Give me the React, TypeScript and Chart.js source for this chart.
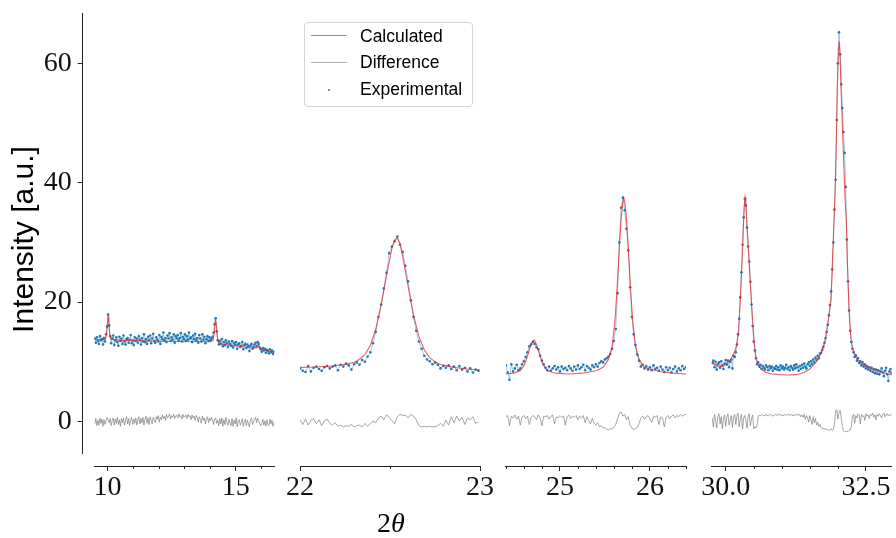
import React, { useEffect, useRef } from 'react';
import { Chart, registerables } from 'chart.js';

Chart.register(...registerables);

// ---------------- data ----------------
// Panel 1 (2θ 9.5 – 16.5)
const P1_RANGE = [9.48, 16.51];
const P1_TICKS = [10, 15];
const P1_TICK_LABELS = ['10', '15'];
const P1_MINOR = [11, 12, 13, 14, 16];
const P1_EXP_START = 9.5;
const P1_EXP_STEP = 0.04;
const P1_EXP = [
  13.9, 13.2, 14.1, 13.5, 13.0, 14.3, 13.6, 13.8, 12.9, 14.0,
  13.4, 14.6, 15.9, 17.9, 16.1, 14.3, 13.1, 13.9, 14.4, 12.8,
  13.6, 14.1, 13.3, 12.7, 14.2, 13.5, 13.9, 13.0, 14.4, 13.4,
  12.9, 13.8, 14.0, 13.2, 13.7, 14.5, 13.1, 13.6, 12.8, 14.1,
  13.5, 13.9, 13.2, 14.3, 13.7, 12.9, 14.0, 13.4, 14.6, 13.3,
  13.8, 13.0, 14.2, 13.6, 14.4, 13.1, 13.9, 14.7, 13.5, 13.2,
  14.1, 13.7, 13.4, 14.5, 13.0, 14.2, 13.8, 14.9, 13.6, 14.0,
  13.3, 14.4, 13.9, 14.8, 13.5, 14.1, 13.7, 14.6, 13.2, 14.3,
  13.9, 14.5, 13.6, 14.0, 14.8, 13.4, 14.2, 13.8, 14.6, 13.5,
  14.3, 13.7, 14.9, 13.9, 14.1, 13.3, 14.4, 13.8, 14.7, 13.6,
  14.0, 13.2, 14.5, 13.9, 13.4, 14.6, 13.7, 14.2, 13.1, 13.8,
  14.3, 13.5, 14.1, 13.6, 13.9, 14.2, 14.9, 16.3, 17.3, 15.1,
  13.6, 12.9, 13.5, 13.0, 13.8, 12.6, 13.3, 12.8, 13.6, 13.1,
  12.5, 13.4, 13.0, 12.7, 13.5, 12.4, 13.2, 12.8, 13.3, 12.2,
  12.9, 13.1, 12.5, 12.7, 13.3, 12.1, 12.8, 13.0, 12.3, 12.9,
  12.6, 11.8, 12.7, 13.0, 12.2, 12.5, 12.9, 13.2, 12.6, 13.3,
  13.0, 12.4, 12.1, 11.7, 12.3, 11.9, 12.2, 11.5, 12.0, 11.8,
  11.4, 12.1, 11.6, 11.9, 11.3, 11.7,
];
const P1_DIFF = [
  -0.4, 0.5, -0.7, 0.2, -0.6, 0.6, -0.3, 0.4, -0.8, 0.3,
  -0.5, 0.1, 0.7, 0.3, -0.2, 0.5, -0.7, 0.2, 0.6, -0.6,
  0.4, -0.3, 0.7, -0.5, 0.3, -0.8, 0.5, -0.2, 0.6, -0.6,
  0.2, 0.8, -0.4, 0.5, -0.7, 0.3, 0.7, -0.5, 0.4, -0.3,
  0.6, -0.6, 0.3, 0.8, -0.4, 0.5, -0.2, 0.7, -0.6, 0.4,
  0.9, -0.3, 0.6, -0.5, 0.8, 0.2, -0.4, 0.7, 0.3, -0.2,
  0.8, 0.4, 1.0, -0.1, 0.7, 0.3, 1.1, 0.5, 0.9, 0.2,
  1.2, 0.6, 0.9, 1.3, 0.4, 1.0, 0.7, 1.2, 0.5, 0.9,
  1.1, 0.6, 1.3, 0.8, 1.0, 0.4, 1.2, 0.7, 0.9, 1.1,
  0.5, 1.2, 0.8, 1.0, 0.3, 1.1, 0.6, 0.9, 0.2, 1.0,
  0.7, -0.1, 0.8, 0.4, -0.3, 0.9, 0.2, 0.6, -0.4, 0.5,
  0.8, -0.2, 0.6, 0.1, 0.7, 0.3, -0.5, 0.4, 0.6, -0.3,
  0.2, -0.7, 0.5, -0.4, 0.6, -0.8, 0.3, -0.5, 0.7, -0.2,
  -0.6, 0.4, -0.3, -0.7, 0.5, -0.8, 0.2, -0.4, 0.6, -0.9,
  0.1, 0.3, -0.6, -0.2, 0.5, -0.8, 0.0, 0.4, -0.7, 0.2,
  -0.3, -0.9, 0.3, 0.6, -0.5, -0.1, 0.4, 0.7, -0.2, 0.5,
  0.2, -0.4, -0.7, -0.3, 0.4, -0.6, 0.1, -0.8, 0.3, -0.5,
  -0.7, 0.4, -0.4, 0.2, -0.8, -0.1,
];
const P1_CALC_X = [9.48, 9.7, 9.9, 9.96, 10.0, 10.02, 10.05, 10.08, 10.14, 10.5, 11.0, 11.5, 12.0, 12.5, 13.0, 13.5, 14.0, 14.12, 14.17, 14.21, 14.24, 14.28, 14.34, 14.5, 15.0, 15.5, 15.8, 15.88, 15.96, 16.2, 16.51];
const P1_CALC_Y = [13.75, 13.7, 13.8, 14.4, 16.8, 17.5, 16.6, 14.6, 13.8, 13.6, 13.55, 13.5, 13.45, 13.4, 13.4, 13.35, 13.35, 13.6, 15.0, 17.0, 16.5, 14.3, 13.2, 12.9, 12.7, 12.4, 12.3, 12.7, 12.2, 11.9, 11.6];

// Panel 2 (2θ 22 – 23)
const P2_RANGE = [22, 23];
const P2_TICKS = [22, 23];
const P2_TICK_LABELS = ['22', '23'];
const P2_MINOR = [22.5];
const P2_EXP_START = 22.0;
const P2_EXP_STEP = 0.015;
const P2_EXP = [
  8.9, 8.5, 8.3, 9.3, 8.4, 9.0, 9.2, 8.8, 8.5, 9.1,
  9.3, 8.9, 9.2, 9.4, 8.6, 9.5, 9.2, 9.7, 9.4, 8.7,
  9.6, 9.9, 9.5, 10.3, 10.0, 10.9, 11.6, 13.1, 15.0, 17.5,
  19.6, 22.3, 24.9, 28.2, 29.3, 30.2, 31.0, 29.6, 28.4, 26.1,
  23.5, 20.3, 17.5, 15.2, 13.4, 12.2, 11.0, 10.4, 10.1, 9.6,
  9.9, 9.5, 8.9, 9.3, 9.0, 9.4, 8.8, 9.2, 8.6, 9.3,
  8.7, 9.0, 8.4, 8.9, 8.2, 8.7, 8.5,
];
const P2_DIFF = [
  0.3, -0.5, 0.4, -0.6, 0.2, 0.5, -0.4, 0.3, -0.7, 0.1, 0.4, -0.3, -0.6, -0.2,
  -0.8, -0.6, -0.9, -0.7, -0.8, -0.5, -0.9, -0.7, -0.6, -0.9, -0.3, -0.8, -0.4, 0.1, -0.2,
  0.6, 0.9, 0.3, 1.1, 0.7, 0.2, -0.4, 0.8, 1.2, 1.0, 1.1, 0.6, 1.2, 0.9,
  0.3, -0.7, -0.9, -0.8, -0.9, -0.8, -0.9, -0.85, -0.7, -0.3, -0.8,
  0.2, -0.6, 0.8, -0.2, 0.9, 0.1, 0.7, -0.5, 0.6, 0.3, 0.8, -0.3, -0.1,
];
const P2_CALC_X = [22.0, 22.09, 22.18, 22.255, 22.3, 22.33, 22.36, 22.39, 22.42, 22.45, 22.48, 22.51, 22.525, 22.54, 22.555, 22.57, 22.6, 22.63, 22.66, 22.69, 22.72, 22.75, 22.78, 22.825, 22.87, 22.93, 23.0];
const P2_CALC_Y = [9.07, 9.13, 9.29, 9.58, 9.94, 10.39, 11.22, 12.75, 15.41, 19.42, 24.45, 29.0, 30.4, 30.75, 29.8, 27.64, 22.64, 17.84, 14.26, 11.99, 10.7, 9.99, 9.59, 9.24, 9.02, 8.81, 8.64];

// Panel 3 (2θ 24.4 – 26.4)
const P3_RANGE = [24.4, 26.4];
const P3_TICKS = [25, 26];
const P3_TICK_LABELS = ['25', '26'];
const P3_MINOR = [24.4, 24.6, 24.8, 25.2, 25.4, 25.6, 25.8, 26.2, 26.4];
const P3_EXP_START = 24.4;
const P3_EXP_STEP = 0.02;
const P3_EXP = [
  9.4, 8.2, 7.0, 9.6, 8.4, 8.9, 9.5, 8.6, 8.9, 9.6,
  10.1, 10.8, 11.6, 12.6, 12.9, 13.3, 13.0, 12.4, 12.1, 11.0,
  10.2, 9.6, 9.0, 8.6, 9.2, 8.5, 8.9, 9.3, 8.7, 9.1,
  8.4, 9.2, 8.8, 9.0, 8.6, 9.3, 8.9, 8.5, 9.2, 8.7,
  9.4, 8.8, 9.1, 9.5, 8.6, 9.3, 9.0, 8.7, 9.4, 9.1,
  9.6, 9.2, 9.8, 10.1, 9.9, 10.4, 10.6, 10.9, 11.3, 12.2,
  13.5, 15.5, 21.5, 30.0, 35.8, 37.5, 35.4, 32.3, 28.7, 22.5,
  17.5, 14.6, 12.8, 11.2, 10.2, 9.2, 9.5, 8.9, 9.3, 8.7,
  9.1, 8.6, 9.4, 8.8, 9.0, 8.5, 9.2, 8.7, 8.3, 9.1,
  8.6, 9.0, 8.2, 8.8, 9.2, 8.4, 8.9, 8.6, 9.3, 8.8,
  9.1,
];
const P3_DIFF = [
  0.8, 1.0, -0.7, 0.9, 0.6, 1.1, 0.4, 0.9, -0.6, 0.8,
  1.0, 0.5, 0.9, -0.5, 0.7, 1.0, 0.8, 0.3, 1.1, 0.6,
  -0.7, 0.9, 0.8, 1.0, 0.4, 0.9, 1.1, -0.4, 0.8, 0.6,
  1.0, 0.7, 0.9, -0.6, 0.8, 1.1, 0.5, 0.9, 0.7, 1.0,
  0.3, 0.9, 0.6, 1.0, -0.2, 0.8, 0.2, -0.4, 0.5, -0.3,
  -0.6, -0.2, -0.9, -0.7, -1.1, -1.0, -1.3, -1.4, -1.2, -1.3, -0.9, -0.5,
  0.4, 1.4, 1.6, 0.9, 1.2, 0.3, 0.8,
  -0.6, -1.1, -1.3, -1.2, -1.0,
  -0.3, 0.6, 0.9, 0.4, 0.8, 1.0, 0.5, -0.2, 0.9, 0.7,
  1.0, -0.5, 0.8, 0.6, -0.9, 0.7, 1.0, 0.5, 0.9, 1.1,
  0.6, 1.0, 0.8, 1.2, 0.9, 1.1, 1.2,
];
const P3_CALC_X = [24.4, 24.5, 24.56, 24.6, 24.63, 24.66, 24.68, 24.7, 24.71, 24.72, 24.74, 24.76, 24.79, 24.82, 24.86, 24.95, 25.1, 25.25, 25.4, 25.48, 25.54, 25.58, 25.61, 25.635, 25.66, 25.68, 25.7, 25.71, 25.72, 25.74, 25.76, 25.785, 25.81, 25.84, 25.88, 25.94, 26.02, 26.12, 26.25, 26.4];
const P3_CALC_Y = [7.95, 8.15, 8.55, 9.35, 10.5, 12.0, 12.95, 13.55, 13.65, 13.55, 12.95, 12.0, 10.5, 9.35, 8.55, 8.1, 7.95, 8.1, 8.5, 9.1, 10.4, 12.6, 16.6, 22.2, 29.0, 33.9, 36.9, 37.4, 36.9, 33.9, 29.0, 22.2, 16.6, 12.6, 10.4, 9.1, 8.7, 8.35, 8.1, 7.95];

// Panel 4 (2θ 29.75 – 32.96)
const P4_RANGE = [29.75, 32.96];
const P4_TICKS = [30, 32.5];
const P4_TICK_LABELS = ['30.0', '32.5'];
const P4_MINOR = [30.5, 31, 31.5, 32];
const P4_EXP_START = 29.76;
const P4_EXP_STEP = 0.02;
const P4_EXP = [
  9.8, 10.2, 9.1, 10.0, 8.7, 9.6, 9.9, 9.0, 10.1, 9.4,
  8.8, 9.7, 10.3, 9.5, 10.2, 9.1, 10.0, 10.4, 8.9, 11.0,
  10.8, 11.6, 12.9, 14.6, 17.2, 20.8, 25.0, 29.6, 34.2, 37.3,
  36.2, 32.5, 29.3, 26.8, 23.4, 19.6, 16.0, 13.4, 11.9, 10.6,
  9.6, 9.9, 9.2, 9.5, 8.8, 9.3, 9.0, 8.7, 9.4, 9.1,
  8.6, 9.3, 8.9, 9.2, 8.5, 9.0, 8.8, 9.3, 8.7, 9.1,
  8.6, 9.4, 8.9, 9.2, 8.7, 9.0, 9.5, 8.8, 9.1, 8.6,
  9.3, 9.0, 8.7, 9.4, 8.9, 9.6, 9.1, 8.5, 9.3, 8.8,
  9.5, 9.0, 9.7, 9.2, 8.9, 9.6, 9.9, 9.3, 10.1, 9.6,
  10.4, 9.9, 10.7, 10.3, 11.0, 10.6, 11.4, 11.5, 12.0, 12.5,
  13.2, 14.0, 15.0, 16.2, 17.8, 19.5, 21.8, 25.5, 30.0, 35.5,
  40.5, 50.5, 60.0, 65.2, 61.5, 56.5, 52.5, 48.5, 45.0, 39.3,
  30.5, 23.5, 18.6, 15.2, 13.3, 12.2, 11.6, 10.8, 11.1, 10.2,
  10.6, 9.8, 10.1, 9.4, 9.9, 9.2, 9.6, 8.9, 9.3, 8.7,
  9.1, 8.5, 9.0, 8.3, 8.8, 8.1, 8.7, 8.0, 8.6, 7.9,
  8.4, 8.9, 8.2, 7.6, 8.5, 9.0, 7.9, 6.8, 8.4, 8.8,
  8.1,
];
const P4_DIFF = [
  0.6, -0.9, 1.2, 0.3, -1.1, 0.9, 1.3, -0.4, 0.8, -1.2,
  0.5, 1.1, -0.8, 0.7, 1.3, -0.6, 0.2, 1.0, -1.0, 0.8,
  1.2, -0.5, 0.9, 1.4, -0.9, 0.4, 1.2, -1.3, 0.6, 1.0,
  0.2, -1.1, 0.9, 1.3, -0.7, 0.5, 1.1, -1.2, -0.9, -1.1,
  -0.6, 0.9, 1.1, 1.0, 1.2, 1.0, 1.1, 0.9, 1.2, 1.0,
  1.1, 1.0, 1.2, 1.1, 0.9, 1.0, 1.2, 1.1, 1.0, 1.3,
  1.1, 1.0, 1.2, 0.9, 1.1, 1.2, 1.0, 1.1, 1.3, 1.0,
  1.2, 1.1, 0.9, 1.2, 1.0, 1.1, 1.3, 1.0, 1.2, 0.8,
  1.1, 0.7, 1.2, 0.4, 1.0, 0.6, -0.1, 1.0, 0.3, -0.5,
  0.8, -0.2, 0.5, -0.6, -0.1, -0.8, -0.5, -1.0, -1.2, -1.1,
  -1.3, -1.2, -1.4, -1.3, -1.5, -1.4, -1.2, -1.5, -1.3, -0.4,
  1.8, 2.0, 0.4, 1.5, 1.9, 0.6, -0.8, -1.6, -1.7,
  -1.7, -1.6, -1.7, -1.5, -1.4, -0.9,
  0.9, 1.2, -0.3, 1.0, 0.6, 1.3, 1.1, -0.4, 1.2, 0.8,
  1.0, 0.2, 1.3, 0.9, 1.1, 0.5, 1.2, 1.0, 1.4, 0.7,
  1.1, 0.3, 1.2, 0.9, 1.3, 1.0, 0.6, 1.2, 1.4, 0.8,
  1.1, 1.3, 0.9, 1.2, 1.0, 1.3,
];
const P4_CALC_X = [29.75, 29.8, 29.85, 29.9, 29.95, 30.0, 30.05, 30.1, 30.15, 30.19, 30.23, 30.26, 30.29, 30.31, 30.33, 30.345, 30.36, 30.38, 30.41, 30.44, 30.47, 30.5, 30.53, 30.57, 30.63, 30.7, 30.8, 30.95, 31.1, 31.25, 31.4, 31.5, 31.6, 31.67, 31.72, 31.77, 31.83, 31.88, 31.92, 31.95, 31.97, 31.99, 32.01, 32.025, 32.04, 32.06, 32.08, 32.1, 32.13, 32.15, 32.17, 32.2, 32.23, 32.26, 32.3, 32.36, 32.42, 32.55, 32.66, 32.8, 32.96];
const P4_CALC_Y = [10.0, 9.6, 9.3, 9.2, 9.3, 9.6, 10.0, 10.6, 11.5, 12.6, 15.0, 20.5, 26.5, 31.5, 36.0, 37.6, 36.5, 32.8, 28.0, 23.0, 18.3, 14.2, 11.3, 9.6, 8.8, 8.3, 8.0, 7.85, 7.8, 7.85, 8.2, 8.8, 9.8, 10.8, 11.9, 13.3, 17.0, 20.5, 31.0, 38.5, 46.0, 56.0, 62.5, 63.7, 61.0, 55.0, 50.0, 44.5, 37.0, 33.8, 26.5, 18.7, 14.2, 12.3, 11.4, 10.3, 9.75, 9.0, 8.6, 8.2, 7.8];

// y axis
const Y_RANGE = [-7.45, 68.43];
const Y_TICKS = [0, 20, 40, 60];
const Y_SPINE_BOTTOM = -5.5;
const Y_TITLE = 'Intensity [a.u.]';
const SERIES_NAMES = ['Calculated', 'Difference', 'Experimental'];

// ---------------- style ----------------
const SERIF = '"Liberation Serif", "Times New Roman", serif';
const SANS = '"Liberation Sans", Arial, Helvetica, sans-serif';
const AXIS_COLOR = '#222222';
const TEXT_COLOR = '#111111';
const COLOR_CALC = 'rgba(232, 40, 40, 0.75)';
const COLOR_CALC_LEGEND = '#ee6a6a';
const COLOR_DIFF = 'rgba(115, 115, 115, 0.8)';
const COLOR_DIFF_LEGEND = '#b0b0b0';
const COLOR_EXP = '#1f77b4';
const COLOR_EXP_LINE = 'rgba(31, 119, 180, 0.4)';

const Y_AXIS_W = 82.7;
const X_AXIS_H = 72;
const LEAD_GAP = 11.6;
const PANEL_W = 180;
const GAP_W = 25.8;

function onGrid(start: number, step: number, values: number[]) {
  return values.map((y, i) => ({ x: Math.round((start + i * step) * 10000) / 10000, y }));
}
function zipXY(xs: number[], ys: number[]) {
  return xs.map((x, i) => ({ x, y: ys[i] }));
}

const PANELS = [
  { id: 'x1', range: P1_RANGE, ticks: P1_TICKS, labels: P1_TICK_LABELS, minor: P1_MINOR,
    exp: onGrid(P1_EXP_START, P1_EXP_STEP, P1_EXP), diff: onGrid(P1_EXP_START, P1_EXP_STEP, P1_DIFF), calc: zipXY(P1_CALC_X, P1_CALC_Y) },
  { id: 'x2', range: P2_RANGE, ticks: P2_TICKS, labels: P2_TICK_LABELS, minor: P2_MINOR,
    exp: onGrid(P2_EXP_START, P2_EXP_STEP, P2_EXP), diff: onGrid(P2_EXP_START, P2_EXP_STEP, P2_DIFF), calc: zipXY(P2_CALC_X, P2_CALC_Y) },
  { id: 'x3', range: P3_RANGE, ticks: P3_TICKS, labels: P3_TICK_LABELS, minor: P3_MINOR,
    exp: onGrid(P3_EXP_START, P3_EXP_STEP, P3_EXP), diff: onGrid(P3_EXP_START, P3_EXP_STEP, P3_DIFF), calc: zipXY(P3_CALC_X, P3_CALC_Y) },
  { id: 'x4', range: P4_RANGE, ticks: P4_TICKS, labels: P4_TICK_LABELS, minor: P4_MINOR,
    exp: onGrid(P4_EXP_START, P4_EXP_STEP, P4_EXP), diff: onGrid(P4_EXP_START, P4_EXP_STEP, P4_DIFF), calc: zipXY(P4_CALC_X, P4_CALC_Y) },
];

function gapScale(weight: number) {
  return {
    type: 'linear', axis: 'x', position: 'bottom', stack: 'xs', stackWeight: weight,
    min: 0, max: 1, display: true,
    grid: { display: false }, border: { display: false }, ticks: { display: false }, title: { display: false },
    afterFit: (s: any) => { s.height = X_AXIS_H; s.paddingLeft = 0; s.paddingRight = 0; },
  };
}

function panelScale(p: any) {
  return {
    type: 'linear', axis: 'x', position: 'bottom', stack: 'xs', stackWeight: PANEL_W,
    min: p.range[0], max: p.range[1], bounds: 'data',
    afterBuildTicks: (s: any) => { s.ticks = p.ticks.map((v: number) => ({ value: v })); },
    afterFit: (s: any) => { s.height = X_AXIS_H; s.paddingLeft = 0; s.paddingRight = 0; },
    grid: { display: true, drawOnChartArea: false, drawTicks: true, tickLength: 5, color: AXIS_COLOR, lineWidth: 1 },
    border: { display: true, color: AXIS_COLOR, width: 1 },
    ticks: {
      autoSkip: false, maxRotation: 0, minRotation: 0, color: TEXT_COLOR, padding: 0,
      font: { family: SERIF, size: 28 },
      callback: (_v: any, i: number) => p.labels[i],
    },
  };
}

const decorPlugin = {
  id: 'decor',
  afterDraw(chart: any) {
    const ctx = chart.ctx;
    const ys = chart.scales.y;
    ctx.save();
    ctx.strokeStyle = AXIS_COLOR;
    ctx.lineWidth = 1;
    // detached y spine
    const sx = Math.floor(chart.chartArea.left) + 0.5;
    ctx.beginPath();
    ctx.moveTo(sx, Math.round(ys.getPixelForValue(Y_RANGE[1])));
    ctx.lineTo(sx, Math.round(ys.getPixelForValue(Y_SPINE_BOTTOM)));
    ctx.stroke();
    // minor ticks
    PANELS.forEach((p) => {
      const s = chart.scales[p.id];
      const top = Math.round(s.top);
      p.minor.forEach((v: number) => {
        const px = Math.round(s.getPixelForValue(v)) + 0.5;
        ctx.beginPath();
        ctx.moveTo(px, top);
        ctx.lineTo(px, top + 3);
        ctx.stroke();
      });
    });
    ctx.restore();
  },
};

export default function App() {
  const ref = useRef<HTMLCanvasElement>(null);

  useEffect(() => {
    const canvas = ref.current;
    if (!canvas) return;
    const scales: any = {
      y: {
        type: 'linear', position: 'left', min: Y_RANGE[0], max: Y_RANGE[1], bounds: 'data',
        afterBuildTicks: (s: any) => { s.ticks = Y_TICKS.map((v) => ({ value: v })); },
        afterFit: (s: any) => { s.width = Y_AXIS_W; s.paddingTop = 0; s.paddingBottom = 0; },
        grid: { display: true, drawOnChartArea: false, drawTicks: true, tickLength: 5, color: AXIS_COLOR, lineWidth: 1 },
        border: { display: false },
        ticks: { color: TEXT_COLOR, padding: 6, font: { family: SERIF, size: 28 } },
        title: { display: true, text: Y_TITLE, color: '#000', font: { family: SANS, size: 30 }, padding: { top: 7, bottom: 0 } },
      },
    };
    PANELS.forEach((p, k) => {
      scales['xg' + k] = gapScale(k === 0 ? LEAD_GAP : GAP_W);
      scales[p.id] = panelScale(p);
    });

    const datasets: any[] = [];
    PANELS.forEach((p) => {
      datasets.push({
        label: SERIES_NAMES[0], data: p.calc, xAxisID: p.id, yAxisID: 'y', showLine: true,
        borderColor: COLOR_CALC, borderWidth: 1.1, pointRadius: 0, tension: 0, order: 0,
      });
      datasets.push({
        label: SERIES_NAMES[2], data: p.exp, xAxisID: p.id, yAxisID: 'y', showLine: true,
        borderColor: COLOR_EXP_LINE, borderWidth: 1, pointRadius: 1.3, pointBorderWidth: 0,
        pointBackgroundColor: COLOR_EXP, pointBorderColor: COLOR_EXP, tension: 0, order: 1,
      });
      datasets.push({
        label: SERIES_NAMES[1], data: p.diff, xAxisID: p.id, yAxisID: 'y', showLine: true,
        borderColor: COLOR_DIFF, borderWidth: 0.8, pointRadius: 0, tension: 0, order: 2,
      });
    });

    const chart = new Chart(canvas, {
      type: 'scatter',
      data: { datasets },
      options: {
        animation: false,
        responsive: false,
        maintainAspectRatio: false,
        devicePixelRatio: 1,
        layout: { padding: { left: 0, top: 13, right: 896 - Y_AXIS_W - LEAD_GAP - 4 * PANEL_W - 3 * GAP_W, bottom: 0 } },
        scales,
        plugins: { legend: { display: false }, tooltip: { enabled: false }, title: { display: false } },
        events: [],
      } as any,
      plugins: [decorPlugin],
    });
    return () => chart.destroy();
  }, []);

  const legendColors = [COLOR_CALC_LEGEND, COLOR_DIFF_LEGEND];

  return (
    <div style={{ position: 'fixed', left: 0, top: 0, width: 896, height: 538, background: '#fff', overflow: 'hidden' }}>
      <canvas ref={ref} width={896} height={538} style={{ display: 'block', width: 896, height: 538 }} />
      <div
        style={{
          position: 'absolute', left: 304, top: 22, width: 169, height: 85, boxSizing: 'border-box',
          border: '1px solid #d4d4d4', borderRadius: 4, background: 'rgba(255,255,255,0.85)',
        }}
      >
        {SERIES_NAMES.map((name, i) => (
          <React.Fragment key={name}>
            {i < 2 ? (
              <div style={{ position: 'absolute', left: 6, top: 12 + 27 * i, width: 36, height: 1, background: legendColors[i] }} />
            ) : (
              <div style={{ position: 'absolute', left: 23, top: 66, width: 2, height: 2, borderRadius: 1, background: COLOR_EXP }} />
            )}
            <div
              style={{
                position: 'absolute', left: 55, top: 2.6 + 26.6 * i, fontFamily: SANS, fontSize: 17.5,
                lineHeight: '20px', color: '#000', whiteSpace: 'nowrap',
              }}
            >
              {name}
            </div>
          </React.Fragment>
        ))}
      </div>
      <div
        style={{
          position: 'absolute', left: 340.8, width: 100, top: 505, textAlign: 'center',
          fontFamily: SERIF, fontSize: 28, lineHeight: '36px', color: '#000', whiteSpace: 'nowrap',
        }}
      >
        2<i>θ</i>
      </div>
    </div>
  );
}
